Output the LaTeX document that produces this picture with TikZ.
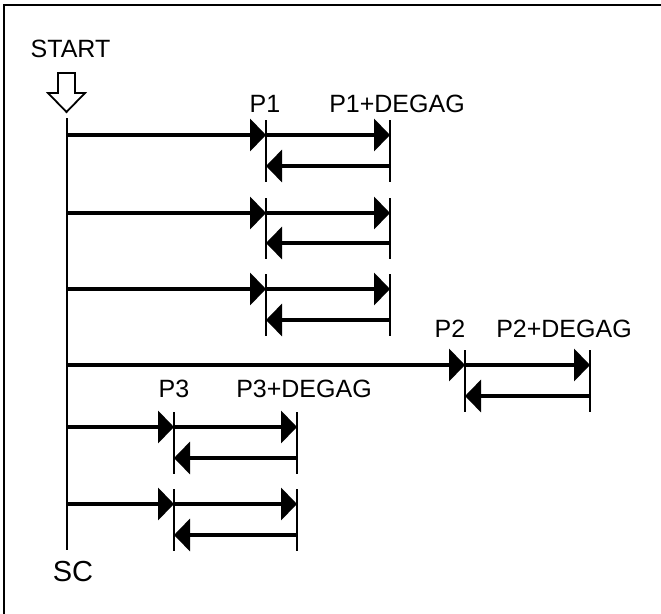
\documentclass[tikz,border=0pt]{standalone}
\usepackage{fontspec}
\setmainfont{Liberation Sans}
\usetikzlibrary{arrows.meta}
\begin{document}
\begin{tikzpicture}[x=1pt,y=-1pt,
  lbl/.style={anchor=base,inner sep=0pt,font=\fontsize{25}{30}\selectfont},
  fwd/.style={line width=4.5pt,-{Triangle[length=16pt,width=32pt]}},
  back/.style={line width=3.5pt,-{Triangle[length=16pt,width=32pt]}},
  tick/.style={line width=2pt},
  spine/.style={line width=2pt}]
\useasboundingbox (0,0) rectangle (661,613);
\draw[line width=2.5pt] (4,5) rectangle (700,650);
% start marker
\node[lbl] (start) at (70.5,57) {START};
\draw[line width=1.8pt,fill=white] (58,73) -- (75,73) -- (75,93) -- (85,93) -- (66.5,112) -- (48,93) -- (58,93) -- cycle;
% spine
\coordinate (s0) at (67,118);
\coordinate (s1) at (67,550);
\draw[spine] (s0) -- (s1);
\node[lbl,font=\fontsize{29}{34}\selectfont] (sc) at (73,581) {SC};
% generic row macro
\newcommand{\myrow}[5]{% name, y, ret y, xa, xb
  \coordinate (#1o) at (67,#2);
  \coordinate (#1a) at (#4,#2);
  \coordinate (#1b) at (#5,#2);
  \coordinate (#1ra) at (#4,#3);
  \coordinate (#1rb) at (#5,#3);
  \coordinate (#1ta) at (#4,#2-15);
  \coordinate (#1tb) at (#4,#3+16);
  \coordinate (#1ua) at (#5,#2-15);
  \coordinate (#1ub) at (#5,#3+16);
  \draw[tick] (#1ta) -- (#1tb);
  \draw[tick] (#1ua) -- (#1ub);
  \draw[fwd] (#1o) -- (#1a);
  \draw[fwd] (#1a) -- (#1b);
  \draw[back] (#1rb) -- (#1ra);
}
\myrow{r1}{135}{166}{266}{390}
\myrow{r2}{213}{243}{266}{390}
\myrow{r3}{289}{320}{266}{390}
\myrow{r4}{365}{396}{465}{590}
\myrow{r5}{427}{458}{174}{297}
\myrow{r6}{504}{535}{174}{297}
% labels
\node[lbl] (p1) at (265,112) {P1};
\node[lbl] (p1d) at (397,112) {P1+DEGAG};
\node[lbl] (p2) at (450,337) {P2};
\node[lbl] (p2d) at (564,337) {P2+DEGAG};
\node[lbl] (p3) at (174,397) {P3};
\node[lbl] (p3d) at (304,397) {P3+DEGAG};
\end{tikzpicture}
\end{document}
